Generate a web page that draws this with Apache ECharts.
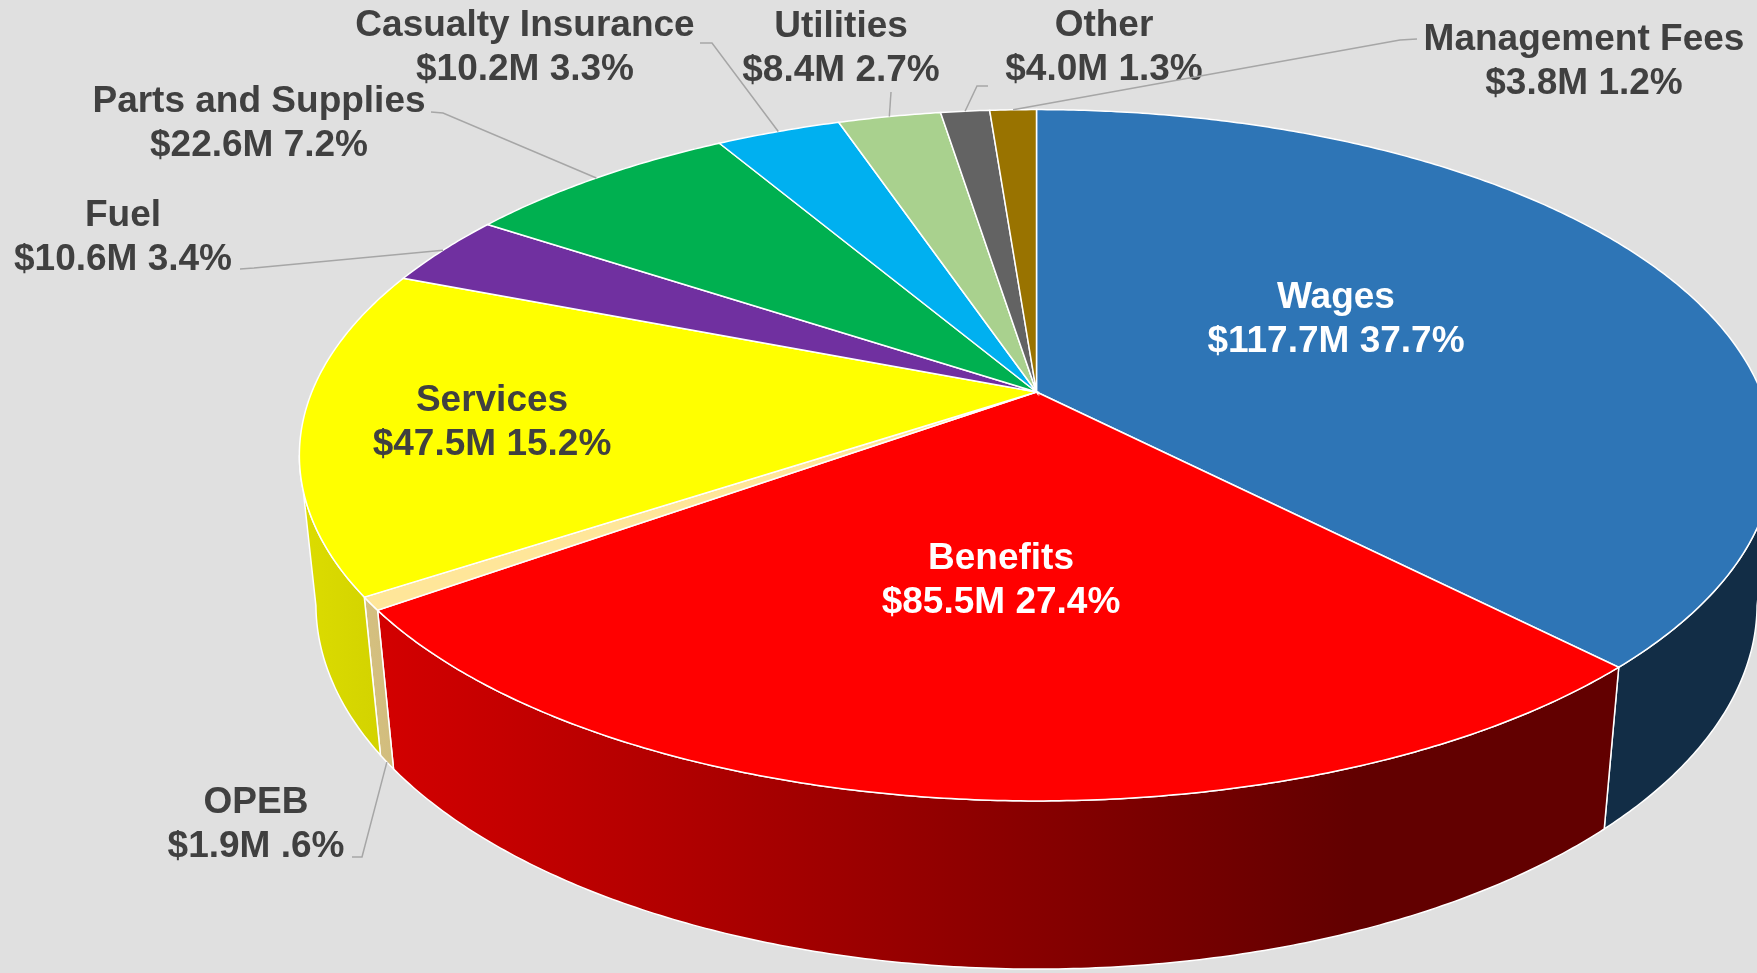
<!DOCTYPE html>
<html>
<head>
<meta charset="utf-8">
<script src="https://cdn.jsdelivr.net/npm/echarts@6/dist/echarts.min.js"></script>
<style>
html,body{margin:0;padding:0;background:#E0E0E0;}
#chart{width:1757px;height:973px;}
</style>
</head>
<body>
<div id="chart"></div>
<script>
// ---- data ----
const categories = ['Wages','Benefits','OPEB','Services','Fuel','Parts and Supplies','Casualty Insurance','Utilities','Other','Management Fees'];
const valuesM = [117.7, 85.5, 1.9, 47.5, 10.6, 22.6, 10.2, 8.4, 4.0, 3.8];
const pctLabels = ['37.7%', '27.4%', '.6%', '15.2%', '3.4%', '7.2%', '3.3%', '2.7%', '1.3%', '1.2%'];

// ---- styles / layout ----
const colors = ['#2E75B6','#FF0000','#FFE699','#FFFF00','#7030A0','#00B050','#00B0F0','#A9D18E','#636363','#997300'];
const labelColors = ['#FFFFFF','#FFFFFF','#404040','#404040','#404040','#404040','#404040','#404040','#404040','#404040'];
const labelPos = [[1336,320],[1001,581],[256,825],[492,423],[123,238],[259,124],[525,48],[841,49],[1104,48],[1584,62]];
// leader start points (label side); the end is computed on the pie rim
const leaderStart = [null, null, [[352,857],[362,857]], null, [[240,269],[254,268]], [[431,112],[443,113]], [[700,43],[712,43]], [[891,92]], [[988,86],[977,86]], [[1417,39],[1400,40]]];
const leaderOnBottom = [false,false,true,false,false,false,false,false,false,false];

// projection of a tilted disc (perspective)
const CX = 1036.5, CY = 392, K = 3514, L = 4.849, S = 0.461, C = 0.8874, H = 0.2336;
function proj(thetaDeg, Y) {
  const t = thetaDeg * Math.PI / 180;
  const X = Math.sin(t), Z = Math.cos(t);
  const depth = L - Y * S + Z * C;
  const up = Y * C + Z * S;
  return [CX + K * X / depth, CY - K * up / depth];
}
function shade(hex, f) {
  const n = parseInt(hex.slice(1), 16);
  const r = Math.round(((n >> 16) & 255) * f), g = Math.round(((n >> 8) & 255) * f), b = Math.round((n & 255) * f);
  return 'rgb(' + r + ',' + g + ',' + b + ')';
}
function sideFill(hex) {
  const W = 1757;
  return new echarts.graphic.LinearGradient(0, 0, W, 0, [
    {offset: 0, color: shade(hex, 0.87)},
    {offset: 287 / W, color: shade(hex, 0.87)},
    {offset: 440 / W, color: shade(hex, 0.80)},
    {offset: 1355 / W, color: shade(hex, 0.385)},
    {offset: 1, color: shade(hex, 0.385)}
  ], true);
}
const total = valuesM.reduce((a, b) => a + b, 0);
function sliceAngles(i) {
  let cum = 0;
  for (let k = 0; k < i; k++) cum += valuesM[k];
  return [cum / total * 360, (cum + valuesM[i]) / total * 360];
}
function arcPts(a0, a1, Y) {
  const n = Math.max(2, Math.ceil((a1 - a0) / 0.5));
  const pts = [];
  for (let j = 0; j <= n; j++) pts.push(proj(a0 + (a1 - a0) * j / n, Y));
  return pts;
}
const VIS0 = Math.acos(-C / L) * 180 / Math.PI, VIS1 = 360 - VIS0;

function renderSlice(params, api) {
  const i = params.dataIndex;
  const [a0, a1] = sliceAngles(api.value(0));
  const children = [];
  const lo = Math.max(a0, VIS0), hi = Math.min(a1, VIS1);
  if (hi > lo) {
    const top = arcPts(lo, hi, 0);
    const bot = arcPts(lo, hi, -H).reverse();
    children.push({
      type: 'polygon',
      shape: {points: top.concat(bot)},
      style: {fill: sideFill(colors[i]), stroke: '#FFFFFF', lineWidth: 1.5}
    });
  }
  const topPts = [[CX, CY]].concat(arcPts(a0, a1, 0));
  children.push({
    type: 'polygon',
    shape: {points: topPts},
    style: {fill: colors[i], stroke: '#FFFFFF', lineWidth: 1.5}
  });
  return {type: 'group', children: children};
}

function renderLabel(params, api) {
  const i = params.dataIndex;
  const [a0, a1] = sliceAngles(api.value(0));
  const children = [];
  if (leaderStart[i]) {
    const end = proj((a0 + a1) / 2, leaderOnBottom[i] ? -H : 0);
    children.push({
      type: 'polyline',
      shape: {points: leaderStart[i].concat([end])},
      style: {stroke: '#A6A6A6', lineWidth: 1.5, fill: null}
    });
  }
  const v = api.value(1);
  children.push({
    type: 'text',
    x: labelPos[i][0],
    y: labelPos[i][1],
    style: {
      text: categories[i] + '\n$' + v.toFixed(1) + 'M ' + pctLabels[i],
      font: 'bold 37px "Liberation Sans", Arial, sans-serif',
      lineHeight: 44,
      fill: labelColors[i],
      align: 'center',
      verticalAlign: 'middle'
    }
  });
  return {type: 'group', children: children};
}

const seriesData = valuesM.map((v, i) => ({name: categories[i], value: [i, v]}));

const chart = echarts.init(document.getElementById('chart'), null, {renderer: 'canvas', width: 1757, height: 973});
chart.setOption({
  backgroundColor: '#E0E0E0',
  animation: false,
  series: [
    {type: 'custom', coordinateSystem: 'none', renderItem: renderSlice, data: seriesData, z: 1, silent: true},
    {type: 'custom', coordinateSystem: 'none', renderItem: renderLabel, data: seriesData, z: 2, silent: true}
  ]
});
</script>
</body>
</html>
